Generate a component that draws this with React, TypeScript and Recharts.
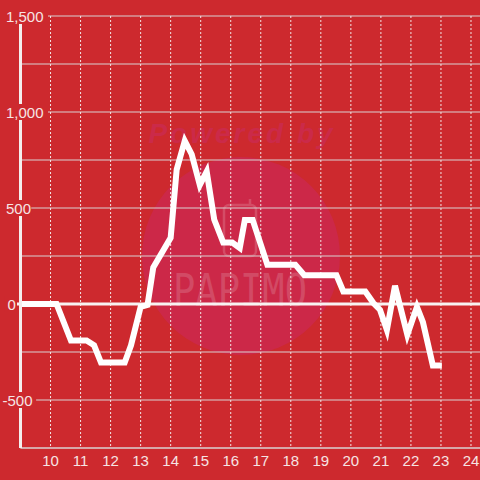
import React from 'react'
import { LineChart, Line, XAxis, YAxis, CartesianGrid, ReferenceLine } from 'recharts'

const BG = '#cd292e'
const TEXT = '#f6e4e4'
const GRID = '#d9d2d2'

// hour of day (x) and value (y)
const hours = [9, 10.2, 10.68, 11.2, 11.45, 11.68, 12.47, 12.68, 13.0, 13.23, 13.42, 14.0, 14.2, 14.47, 14.7, 14.97, 15.2, 15.45, 15.75, 16.05, 16.3, 16.47, 16.73, 17.22, 18.15, 18.45, 19.52, 19.75, 20.48, 20.75, 20.97, 21.2, 21.47, 21.88, 22.2, 22.4, 22.73, 23.03]
const values = [0, 0, -190, -190, -215, -305, -305, -215, -15, -5, 190, 345, 700, 850, 780, 620, 690, 440, 320, 320, 292, 438, 438, 205, 205, 150, 150, 65, 65, 5, -30, -135, 95, -160, -15, -95, -320, -320]

const xTicks = [10, 11, 12, 13, 14, 15, 16, 17, 18, 19, 20, 21, 22, 23, 24]
const yTicks = [-750, -500, -250, 0, 250, 500, 750, 1000, 1250, 1500]

const data = hours.map((h, i) => ({ h, v: values[i] }))

function YTick(props: any) {
  const { y, payload } = props
  const v = payload.value
  if (v % 500 !== 0 || v === -750) return null
  const label = v.toLocaleString('en-US')
  const x = v < 0 ? 2.5 : v === 0 ? 7.5 : 6
  const w = label.length * 8.4 + 3
  return (
    <g>
      <rect x={x - 3} y={y - 8} width={v === 0 ? 17 - (x - 3) : w} height={16} fill={BG} />
      <text x={x} y={y + 5.5} fill={TEXT} fontSize={15} fontFamily="Liberation Sans, Arial, sans-serif">
        {label}
      </text>
    </g>
  )
}

function XTick(props: any) {
  const { x, payload } = props
  return (
    <text x={x} y={466} textAnchor="middle" fill={TEXT} fontSize={15} fontFamily="Liberation Sans, Arial, sans-serif">
      {payload.value}
    </text>
  )
}

function Watermark() {
  return (
    <svg width={480} height={480} style={{ position: 'absolute', left: 0, top: 0 }}>
      <circle cx={241} cy={256} r={99} fill="#cc2848" />
      <text x={242} y={143} textAnchor="middle" fontSize={28} fontWeight="bold" fontStyle="italic"
        letterSpacing={3} fill="#cb2a49" fontFamily="Liberation Sans, Arial, sans-serif">
        Powered by
      </text>
      <rect x={224} y={205} width={32} height={51} rx={5} fill="none" stroke="#d44c66" strokeWidth={2.5} />
      <path d="M250 205 L250 199" stroke="#d44c66" strokeWidth={2.5} />
      <text x={173} y={306} fontSize={44} textLength={134} lengthAdjust="spacingAndGlyphs"
        fill="#d24a65" fontFamily="DejaVu Sans Mono, monospace">
        PAPIMO
      </text>
    </svg>
  )
}

export default function App() {
  return (
    <div style={{ position: 'absolute', left: 0, top: 0, width: 480, height: 480, background: BG }}>
      <Watermark />
      <div style={{ position: 'absolute', left: 0, top: 0 }}>
        <LineChart width={480} height={480} data={data} margin={{ top: 16, right: 0, left: 0, bottom: 2 }}>
          <CartesianGrid stroke={GRID} horizontalValues={yTicks} vertical={false} />
          <CartesianGrid stroke="#f2e6e6" strokeDasharray="2 2" verticalValues={xTicks} horizontal={false} />
          <XAxis dataKey="h" type="number" domain={[9, 24.3]} ticks={xTicks} interval={0}
            tick={<XTick />} tickLine={false} height={30} axisLine={{ stroke: GRID, strokeWidth: 1 }} />
          <YAxis type="number" domain={[-750, 1500]} ticks={yTicks} interval={0} width={20.5}
            tick={<YTick />} tickLine={false} axisLine={{ stroke: '#f4eeee', strokeWidth: 3 }} />
          <ReferenceLine ifOverflow="visible" stroke="#f8f2f2" strokeWidth={3}
            segment={[{ x: 8.87, y: 0 }, { x: 24.3, y: 0 }]} />
          <Line type="linear" dataKey="v" stroke="#ffffff" strokeWidth={6} dot={false} isAnimationActive={false} />
        </LineChart>
      </div>
    </div>
  )
}
